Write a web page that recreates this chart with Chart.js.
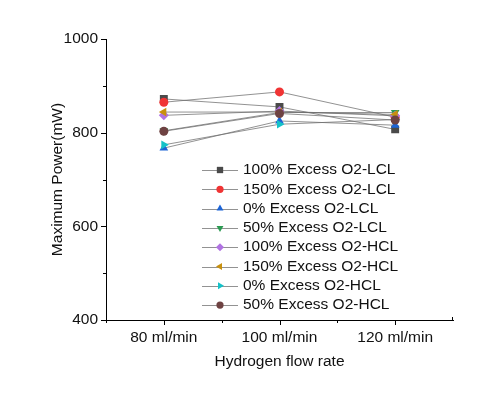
<!DOCTYPE html>
<html>
<head>
<meta charset="utf-8">
<script src="https://cdn.jsdelivr.net/npm/chart.js@4"></script>
<style>
  html, body { margin: 0; padding: 0; background: #fff; }
  #wrap { width: 484px; height: 396px; }
</style>
</head>
<body>
<div id="wrap"><canvas id="powerChart" width="484" height="396"></canvas></div>
<script>
// data
var categories = ['80 ml/min', '100 ml/min', '120 ml/min'];
var seriesNames = ['100% Excess O2-LCL', '150% Excess O2-LCL', '0% Excess O2-LCL', '50% Excess O2-LCL',
                   '100% Excess O2-HCL', '150% Excess O2-HCL', '0% Excess O2-HCL', '50% Excess O2-HCL'];
var lcl100 = [872, 855, 807];
var lcl150 = [865, 887, 833];
var lcl0 = [767, 825, 816];
var lcl50 = [804, 843, 843];
var hcl100 = [837, 846, 836];
var hcl150 = [844, 844, 839];
var hcl0 = [774, 818, 828];
var hcl50 = [803, 841, 827];
var yTickLabels = [400, 600, 800, 1000];

var seriesValues = [lcl100, lcl150, lcl0, lcl50, hcl100, hcl150, hcl0, hcl50];
var colors = ['#4a4a4a', '#f03434', '#1c64d6', '#2b9a52', '#b072e2', '#c8900e', '#14c2c8', '#6e4242'];
var styles = ['rect', 'circle', 'triangle', 'triangle', 'rectRot', 'triangle', 'triangle', 'circle'];
var rotations = [0, 0, 0, 180, 0, 270, 90, 0];
var radii = [5.6, 4.5, 5, 5, 5, 5, 5, 4.5];

var FONT = "'Liberation Sans', Arial, sans-serif";

var datasets = seriesValues.map(function(vals, i) {
    return {
        label: seriesNames[i],
        data: vals,
        borderColor: 'rgba(110,110,110,0.75)',
        borderWidth: 1,
        backgroundColor: colors[i],
        pointBackgroundColor: colors[i],
        pointBorderColor: colors[i],
        pointBorderWidth: 0,
        pointStyle: styles[i],
        pointRotation: rotations[i],
        pointRadius: radii[i],
        tension: 0,
        order: seriesValues.length - i
    };
});

// minor/major tick marks like the original plot
var tickMarks = {
    id: 'tickMarks',
    afterDraw: function(chart) {
        var ctx = chart.ctx;
        var x = chart.scales.x, y = chart.scales.y;
        ctx.save();
        ctx.strokeStyle = '#000';
        ctx.lineWidth = 1;
        ctx.beginPath();
        for (var v = 400; v <= 1000; v += 100) {
            var py = Math.round(y.getPixelForValue(v)) + 0.5;
            var len = (v % 200 === 0) ? 5 : 3;
            ctx.moveTo(x.left - len, py);
            ctx.lineTo(x.left, py);
        }
        for (var i = 0; i < categories.length; i++) {
            var px = Math.round(x.getPixelForValue(i)) + 0.5;
            ctx.moveTo(px, y.bottom);
            ctx.lineTo(px, y.bottom + 5);
        }
        [-0.5, 0.5, 1.5].forEach(function(k) {
            var px = Math.round(x.getPixelForValue(k)) + 0.5;
            ctx.moveTo(px, y.bottom);
            ctx.lineTo(px, y.bottom + 3);
        });
        var pr = Math.round(x.right) - 0.5;
        ctx.moveTo(pr, y.bottom);
        ctx.lineTo(pr, y.bottom - 3);
        ctx.stroke();
        ctx.restore();
    }
};

// legend sitting inside the plot area
var insideLegend = {
    id: 'insideLegend',
    afterDraw: function(chart) {
        var ctx = chart.ctx;
        ctx.save();
        chart.data.datasets.forEach(function(ds, i) {
            var cy = 170 + i * 19.3;
            ctx.strokeStyle = 'rgba(110,110,110,0.75)';
            ctx.lineWidth = 1;
            ctx.beginPath();
            ctx.moveTo(202, Math.round(cy) + 0.5);
            ctx.lineTo(238, Math.round(cy) + 0.5);
            ctx.stroke();
            ctx.fillStyle = ds.pointBackgroundColor;
            ctx.strokeStyle = ds.pointBackgroundColor;
            Chart.helpers.drawPoint(ctx, {
                pointStyle: ds.pointStyle,
                rotation: ds.pointRotation,
                radius: ds.pointRadius * 0.8,
                borderWidth: 0
            }, 220, cy);
            ctx.fillStyle = '#111';
            ctx.font = '15.5px ' + FONT;
            ctx.textAlign = 'left';
            ctx.textBaseline = 'middle';
            ctx.fillText(ds.label, 243, cy);
        });
        ctx.restore();
    }
};

var ctx = document.getElementById('powerChart').getContext('2d');
var powerChart = new Chart(ctx, {
    type: 'line',
    data: { labels: categories, datasets: datasets },
    options: {
        responsive: false,
        animation: false,
        layout: { padding: { left: 44, right: 31, top: 39, bottom: 21 } },
        plugins: {
            legend: { display: false },
            tooltip: { enabled: false }
        },
        scales: {
            x: {
                type: 'category',
                offset: true,
                grid: { display: false },
                border: { display: true, color: '#000', width: 1 },
                ticks: { color: '#111', font: { family: FONT, size: 15.5 }, padding: 0, maxRotation: 0 },
                title: { display: true, text: 'Hydrogen flow rate', color: '#111', font: { family: FONT, size: 15.5 } },
                afterFit: function(scale) { scale.height = 55; }
            },
            y: {
                min: 400,
                max: 1000,
                grid: { display: false },
                border: { display: true, color: '#000', width: 1 },
                afterBuildTicks: function(scale) {
                    scale.ticks = yTickLabels.map(function(v) { return { value: v }; });
                },
                ticks: {
                    color: '#111',
                    font: { family: FONT, size: 15.5 },
                    padding: 0,
                    callback: function(value) { return String(value); }
                },
                title: { display: true, text: 'Maximum Power(mW)', color: '#111', font: { family: FONT, size: 15.5 } },
                afterFit: function(scale) { scale.width = 62; }
            }
        }
    },
    plugins: [tickMarks, insideLegend]
});
</script>
</body>
</html>
